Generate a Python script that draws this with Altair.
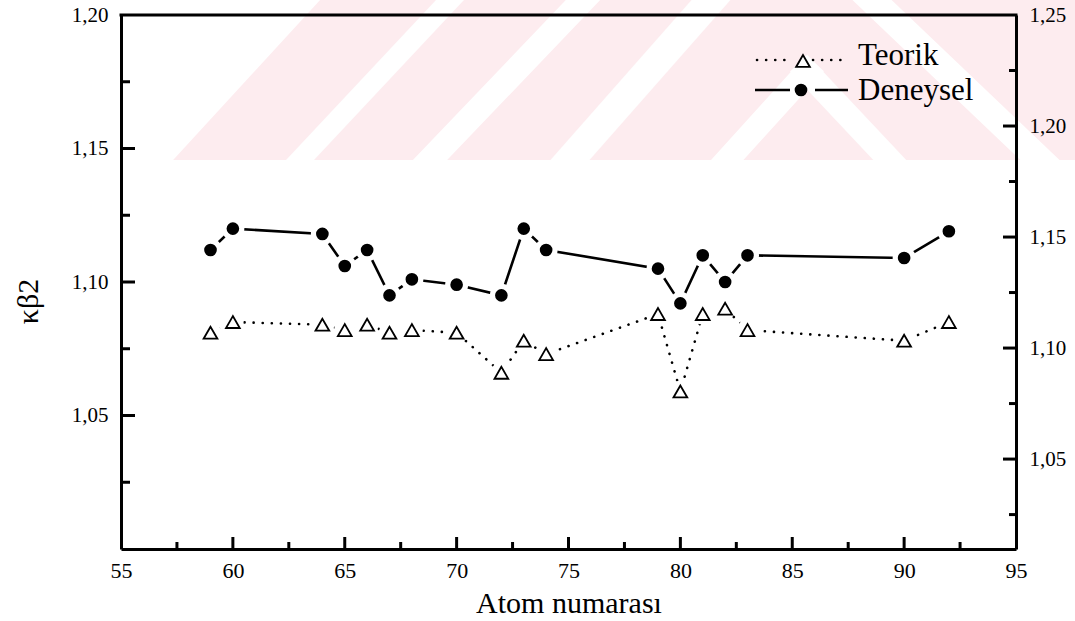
import altair as alt
import pandas as pd

# Atomic numbers and Kβ2 ratios
atom_z = [59, 60, 64, 65, 66, 67, 68, 70, 72, 73, 74, 79, 80, 81, 82, 83, 90, 92]
teorik = [1.081, 1.085, 1.084, 1.082, 1.084, 1.081, 1.082, 1.081, 1.066, 1.078,
          1.073, 1.088, 1.059, 1.088, 1.090, 1.082, 1.078, 1.085]
deneysel = [1.112, 1.120, 1.118, 1.106, 1.112, 1.095, 1.101, 1.099, 1.095, 1.120,
            1.112, 1.105, 1.092, 1.110, 1.100, 1.110, 1.109, 1.119]

# Axis tick values
x_labels = [55, 60, 65, 70, 75, 80, 85, 90, 95]
x_major_in = [60, 65, 70, 75, 80, 85, 90]
x_minor_in = [57.5, 62.5, 67.5, 72.5, 77.5, 82.5, 87.5, 92.5]
left_labels = [1.05, 1.10, 1.15, 1.20]
left_major_in = [1.05, 1.10, 1.15]
left_minor_in = [1.025, 1.075, 1.125, 1.175]
right_labels = [1.05, 1.10, 1.15, 1.20, 1.25]
right_major_in = [1.05, 1.10, 1.15, 1.20]
right_minor_in = [1.025, 1.075, 1.125, 1.175, 1.225]

W, H = 895, 534          # plot area
OX, OY = 121, 15         # plot origin on the page
FONT = "Liberation Serif"
PINK = "#fdecef"

df = pd.DataFrame({"z": atom_z, "teorik": teorik, "deneysel": deneysel})
one = alt.Data(values=[{"k": 0}])

xs = alt.Scale(domain=[55, 95], nice=False, zero=False)
ys = alt.Scale(domain=[1.0, 1.2], nice=False, zero=False)
ys_right = alt.Scale(domain=[1.0095, 1.25], nice=False, zero=False)
comma = "replace(format(datum.value, '.2f'), '.', ',')"

x_axis = alt.Axis(values=x_labels, ticks=False, domainWidth=3, domainColor="black",
                  labelFont=FONT, labelFontSize=22, labelPadding=11, labelFlush=False,
                  labelOverlap=False, labelColor="black", grid=False,
                  title="Atom numarası", titleFont=FONT, titleFontSize=30,
                  titleFontWeight="normal", titleColor="black", titleY=63,
                  titleBaseline="alphabetic", zindex=2)
y_axis = alt.Axis(values=left_labels, ticks=False, domainWidth=3, domainColor="black",
                  labelFont=FONT, labelFontSize=21, labelPadding=13, labelExpr=comma,
                  labelColor="black", labelOverlap=False, grid=False,
                  title="κβ2", titleFont=FONT, titleFontSize=30, titleFontWeight="normal",
                  titleColor="black", titleAngle=270, titleX=-84, titleY=286,
                  titleAlign="center", titleBaseline="alphabetic", zindex=2)
y_axis_right = alt.Axis(orient="right", values=right_labels, ticks=False, domainWidth=3,
                        domainColor="black", labelFont=FONT, labelFontSize=21,
                        labelPadding=13, labelExpr=comma, labelColor="black",
                        labelOverlap=False, grid=False, title=None, zindex=2)


def page_rule(x1, y1, x2, y2, width, color, cap="butt"):
    """A straight band given in page pixels."""
    return alt.Chart(one).mark_rule(color=color, strokeWidth=width, strokeCap=cap).encode(
        x=alt.value(x1 - OX), y=alt.value(y1 - OY),
        x2=alt.value(x2 - OX), y2=alt.value(y2 - OY))


def stripe(xb, xt, h, y_lo=-30, y_hi=190):
    """White diagonal stripe whose centre crosses y=160 at xb and y=0 at xt."""
    fx = lambda y: xb + (160 - y) / 160 * (xt - xb)
    return page_rule(fx(y_hi), y_hi, fx(y_lo), y_lo, h * 0.73, "white")


# Faint pink background band at the top of the page
wm = [alt.Chart(one).mark_rect(color=PINK).encode(
    x=alt.value(-OX), x2=alt.value(1075 - OX), y=alt.value(-OY), y2=alt.value(160 - OY))]
# white area left of the band's slanted edge
wm.append(page_rule(-231 - 220.9, 600 - 203, 687.5 - 220.9, -400 - 203, 600, "white"))
wm += [stripe(300, 450, 28), stripe(430, 583, 34), stripe(570, 711, 40)]
wm.append(page_rule(700, 190, 807, 72, 24, "white", cap="square"))
wm.append(page_rule(807, 72, 918, 190, 24, "white", cap="square"))
wm.append(page_rule(840.5, -30, 1071.5, 190, 27, "white"))
# band cut off below
wm.append(alt.Chart(one).mark_rect(color="white").encode(
    x=alt.value(-OX), x2=alt.value(1075 - OX), y=alt.value(160 - OY), y2=alt.value(621 - OY)))

X = alt.X("z:Q", scale=xs)

teorik_line = alt.Chart(df).mark_line(
    color="black", strokeWidth=2.6, strokeDash=[0.1, 9], strokeCap="round"
).encode(x=alt.X("z:Q", scale=xs, axis=x_axis),
         y=alt.Y("teorik:Q", scale=ys, axis=y_axis))
teorik_halo = alt.Chart(df).mark_point(
    shape="circle", filled=True, color="white", opacity=1, size=450
).encode(x=X, y=alt.Y("teorik:Q", scale=ys))
teorik_pts = alt.Chart(df).mark_point(
    shape="triangle-up", filled=True, fill="white", stroke="black", strokeWidth=1.8,
    opacity=1, size=190
).encode(x=X, y=alt.Y("teorik:Q", scale=ys))

den_line = alt.Chart(df).mark_line(color="black", strokeWidth=2.6).encode(
    x=X, y=alt.Y("deneysel:Q", scale=ys))
den_halo = alt.Chart(df).mark_point(
    shape="circle", filled=True, color="white", opacity=1, size=530
).encode(x=X, y=alt.Y("deneysel:Q", scale=ys))
den_pts = alt.Chart(df).mark_point(
    shape="circle", filled=True, color="black", opacity=1, size=160
).encode(x=X, y=alt.Y("deneysel:Q", scale=ys))

# Legend drawn inside the plot, top right
leg = [
    alt.Chart(one).mark_rule(color="black", strokeWidth=2.6, strokeDash=[0.1, 9],
                             strokeCap="round").encode(
        x=alt.value(636), x2=alt.value(672), y=alt.value(45)),
    alt.Chart(one).mark_rule(color="black", strokeWidth=2.6, strokeDash=[0.1, 9],
                             strokeCap="round").encode(
        x=alt.value(692), x2=alt.value(728), y=alt.value(45)),
    alt.Chart(one).mark_point(shape="triangle-up", filled=True, fill="white",
                              stroke="black", strokeWidth=1.8, opacity=1, size=190).encode(
        x=alt.value(682), y=alt.value(46)),
    alt.Chart(one).mark_rule(color="black", strokeWidth=2.6).encode(
        x=alt.value(634), x2=alt.value(669), y=alt.value(75)),
    alt.Chart(one).mark_rule(color="black", strokeWidth=2.6).encode(
        x=alt.value(694), x2=alt.value(727), y=alt.value(75)),
    alt.Chart(one).mark_point(shape="circle", filled=True, color="black", opacity=1,
                              size=160).encode(x=alt.value(680), y=alt.value(75)),
    alt.Chart(one).mark_text(text="Teorik", font=FONT, fontSize=31, align="left",
                             baseline="alphabetic", color="black").encode(
        x=alt.value(737), y=alt.value(50)),
    alt.Chart(one).mark_text(text="Deneysel", font=FONT, fontSize=31, align="left",
                             baseline="alphabetic", color="black").encode(
        x=alt.value(737), y=alt.value(85)),
]

# Inward ticks on the bottom and left axes, plus the top frame line
ticks = [
    alt.Chart(pd.DataFrame({"t": x_major_in})).mark_rule(color="black", strokeWidth=3).encode(
        x=alt.X("t:Q", scale=xs), y=alt.value(H), y2=alt.value(H - 12)),
    alt.Chart(pd.DataFrame({"t": x_minor_in})).mark_rule(color="black", strokeWidth=3).encode(
        x=alt.X("t:Q", scale=xs), y=alt.value(H), y2=alt.value(H - 7)),
    alt.Chart(pd.DataFrame({"t": left_major_in})).mark_rule(color="black", strokeWidth=3).encode(
        y=alt.Y("t:Q", scale=ys), x=alt.value(0), x2=alt.value(14)),
    alt.Chart(pd.DataFrame({"t": left_minor_in})).mark_rule(color="black", strokeWidth=3).encode(
        y=alt.Y("t:Q", scale=ys), x=alt.value(0), x2=alt.value(9)),
    alt.Chart(one).mark_rule(color="black", strokeWidth=3).encode(
        x=alt.value(-1.5), x2=alt.value(W + 1.5), y=alt.value(0)),
]

left_group = alt.layer(*wm, teorik_line, teorik_halo, teorik_pts,
                       den_line, den_halo, den_pts, *leg, *ticks)

right_group = alt.layer(
    alt.Chart(pd.DataFrame({"t": right_major_in})).mark_rule(color="black", strokeWidth=3).encode(
        y=alt.Y("t:Q", scale=ys_right, axis=y_axis_right), x=alt.value(W), x2=alt.value(W - 13)),
    alt.Chart(pd.DataFrame({"t": right_minor_in})).mark_rule(color="black", strokeWidth=3).encode(
        y=alt.Y("t:Q", scale=ys_right), x=alt.value(W), x2=alt.value(W - 7)),
)

chart = alt.layer(left_group, right_group).resolve_scale(y="independent").properties(
    width=W, height=H,
    autosize=alt.AutoSizeParams(type="none"),
    padding={"left": OX, "top": OY, "right": 1075 - OX - W, "bottom": 621 - OY - H},
    background="white",
).configure_view(stroke=None)

chart.save("out.html", embed_options={"renderer": "svg", "actions": False})
